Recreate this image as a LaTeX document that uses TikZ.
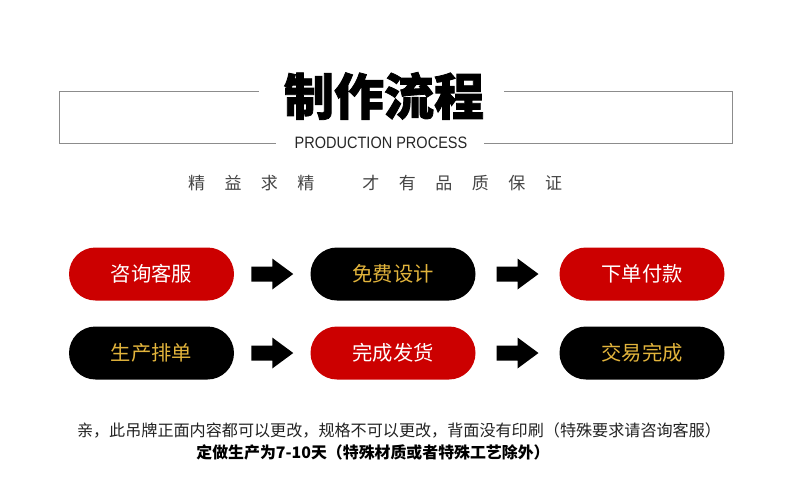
\documentclass[tikz,border=0pt]{standalone}
\usepackage{fontspec}
\setmainfont{Noto Sans CJK SC}
\newfontfamily\cjk{Noto Sans CJK SC}
\newfontfamily\titlefont[BoldFeatures={FakeBold=1.6}]{Noto Sans CJK SC}
\newfontfamily\latinsans[FakeStretch=0.88]{Liberation Sans}
\usetikzlibrary{shapes.misc,calc}
\definecolor{pillred}{HTML}{CC0000}
\definecolor{gold}{HTML}{E2B43C}
\definecolor{framegrey}{HTML}{8C8C8C}
\definecolor{subgrey}{HTML}{444444}
\definecolor{notegrey}{HTML}{222222}
\begin{document}
\begin{tikzpicture}[x=1pt,y=-1pt,
  pill/.style={rounded rectangle, minimum width=165pt, minimum height=53pt, inner sep=0pt, font=\cjk\fontsize{20.3}{20.3}\selectfont},
  redpill/.style={pill, fill=pillred, text=white},
  blackpill/.style={pill, fill=black, text=gold},
  frameline/.style={draw=framegrey, line width=1pt},
  blockarrow/.style={fill=black}
]
\useasboundingbox (0,0) rectangle (790,493);

% title block
\node[inner sep=0pt, font=\titlefont\bfseries\fontsize{50}{50}\selectfont] (title) at (384,96) {制作流程};
\node[inner sep=0pt, font=\latinsans\fontsize{16.5}{16.5}\selectfont, text=black!85] (eng) at (381,143) {PRODUCTION PROCESS};
\coordinate (tl) at (59,91);
\coordinate (tr) at (732,91);
\coordinate (bl) at (59,143.5);
\coordinate (br) at (732,143.5);
\draw[frameline] ($(title.west |- tl)+(-25,0)$) -- (tl) -- (bl) -- ($(eng.west |- bl)+(-18,0)$);
\draw[frameline] ($(title.east |- tr)+(20,0)$) -- (tr) -- (br) -- ($(eng.east |- br)+(16,0)$);

% subtitle
\node[inner sep=0pt, font=\cjk\fontsize{17}{17}\selectfont, text=subgrey] (motto) at (375,183)
  {精\hspace{19.5pt}益\hspace{19.5pt}求\hspace{19.5pt}精\hspace{48pt}才\hspace{19.5pt}有\hspace{19.5pt}品\hspace{19.5pt}质\hspace{19.5pt}保\hspace{19.5pt}证};

% pills
\node[redpill]   (p1) at (151.5,274) {咨询客服};
\node[blackpill] (p2) at (393,274) {免费设计};
\node[redpill]   (p3) at (642,274) {下单付款};
\node[blackpill] (p4) at (151.5,353) {生产排单};
\node[redpill]   (p5) at (393,353) {完成发货};
\node[blackpill] (p6) at (642,353) {交易完成};

% block arrows
\foreach \a/\b in {p1/p2,p2/p3,p4/p5,p5/p6}{
  \coordinate (m) at ($(\a.east)!0.5!(\b.west)$);
  \fill[blockarrow] ($(m)+(-21,-7.5)$) -- ($(m)+(0,-7.5)$) -- ($(m)+(0,-15.5)$)
    -- ($(m)+(21,0)$) -- ($(m)+(0,15.5)$) -- ($(m)+(0,7.5)$) -- ($(m)+(-21,7.5)$) -- cycle;
}

% notes
\node[inner sep=0pt, font=\cjk\fontsize{16.1}{16.1}\selectfont, text=notegrey] (note1) at (399,430)
  {亲，此吊牌正面内容都可以更改，规格不可以更改，背面没有印刷（特殊要求请咨询客服）};
\node[inner sep=0pt, font=\cjk\bfseries\fontsize{15.9}{15.9}\selectfont, text=black] (note2) at (373,452)
  {定做生产为7-10天（特殊材质或者特殊工艺除外）};
\end{tikzpicture}
\end{document}
